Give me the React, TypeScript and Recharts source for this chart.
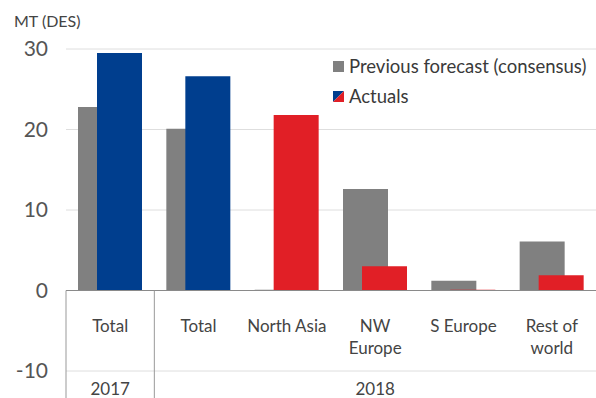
import React from "react";
import { BarChart, Bar, XAxis, YAxis, CartesianGrid, ReferenceLine, Cell } from "recharts";

const categories = ["Total", "Total", "North Asia", "NW\nEurope", "S Europe", "Rest of\nworld"];
const previousForecast = [22.8, 20.1, 0.1, 12.6, 1.2, 6.1];
const actuals = [29.5, 26.6, 21.8, 3.0, 0.1, 1.9];
const actualColors = ["#003e8e", "#003e8e", "#e11f26", "#e11f26", "#e11f26", "#e11f26"];
const yearGroups = [
  { year: "2017", first: 0, last: 0 },
  { year: "2018", first: 1, last: 5 },
];
const yTicks = [-10, 0, 10, 20, 30];
const legendItems = ["Previous forecast (consensus)", "Actuals"];

const W = 596;
const H = 398;
const MARGIN = { top: 49, right: 0, bottom: 0, left: 0 };
const Y_AXIS_W = 66;
const X_AXIS_H = 27;
const FONT = "Lato, 'Noto Sans', sans-serif";
const GRAY = "#808080";

const plotW = W - MARGIN.left - MARGIN.right - Y_AXIS_W;
const plotH = H - MARGIN.top - MARGIN.bottom - X_AXIS_H;
const band = plotW / categories.length;
const pxPerUnit = plotH / (yTicks[yTicks.length - 1] - yTicks[0]);
const zeroAboveBottom = (0 - yTicks[0]) * pxPerUnit;

const data = categories.map((name, i) => ({
  name,
  prev: previousForecast[i],
  actual: actuals[i],
}));

// category label + table lines + year row, all drawn from the tick position
function CategoryTick(props: any) {
  const { x, y, payload, index } = props;
  const lines = String(payload.value).split("\n");
  const group = yearGroups.find((g) => g.first === index);
  const top = y - zeroAboveBottom;
  return (
    <g>
      {lines.map((line, i) => (
        <text key={i} x={x} y={y - 39 + i * 22} textAnchor="middle" fill="#444" fontSize={17} fontFamily={FONT}>
          {line}
        </text>
      ))}
      {group && (
        <>
          <line x1={x - band / 2} x2={x - band / 2} y1={top} y2={H} stroke="#999" strokeWidth={1} />
          <text
            x={x + ((group.last - group.first) / 2) * band}
            y={y + 24}
            textAnchor="middle"
            fill="#444"
            fontSize={17}
            fontFamily={FONT}
          >
            {group.year}
          </text>
        </>
      )}
    </g>
  );
}

function LegendBox() {
  const row: React.CSSProperties = { display: "flex", alignItems: "center", height: 30 };
  return (
    <div
      style={{
        position: "absolute",
        left: 333,
        top: 51,
        fontFamily: FONT,
        fontSize: 18.5,
        color: "#3a3a3a",
        whiteSpace: "nowrap",
      }}
    >
      <div style={row}>
        <svg width={11} height={11} style={{ marginRight: 5 }}>
          <rect width={11} height={11} fill={GRAY} />
        </svg>
        {legendItems[0]}
      </div>
      <div style={row}>
        <svg width={11} height={11} style={{ marginRight: 5 }}>
          <polygon points="0,0 11,0 0,11" fill={actualColors[0]} />
          <polygon points="11,0 11,11 0,11" fill={actualColors[2]} />
        </svg>
        {legendItems[1]}
      </div>
    </div>
  );
}

export default function App() {
  return (
    <div style={{ position: "absolute", left: 0, top: 0, width: W, height: H, background: "#fff" }}>
      <div style={{ position: "absolute", left: 14, top: 11, fontFamily: FONT, fontSize: 16, color: "#444" }}>
        MT (DES)
      </div>
      <BarChart width={W} height={H} data={data} margin={MARGIN} barSize={45} barGap={-26}>
        <CartesianGrid vertical={false} stroke="#dedede" />
        <XAxis
          dataKey="name"
          height={X_AXIS_H}
          axisLine={false}
          tickLine={false}
          tickSize={0}
          tickMargin={0}
          interval={0}
          tick={<CategoryTick />}
        />
        <YAxis
          width={Y_AXIS_W}
          domain={[yTicks[0], yTicks[yTicks.length - 1]]}
          ticks={yTicks}
          axisLine={false}
          tickLine={false}
          tickMargin={12}
          tick={{ fill: "#555", fontSize: 21, fontFamily: FONT }}
        />
        <Bar dataKey="prev" name={legendItems[0]} fill={GRAY} isAnimationActive={false} />
        <Bar dataKey="actual" name={legendItems[1]} isAnimationActive={false}>
          {data.map((d, i) => (
            <Cell key={d.name + i} fill={actualColors[i]} />
          ))}
        </Bar>
        <ReferenceLine y={0} stroke="#8a8a8a" strokeWidth={1.2} />
      </BarChart>
      <LegendBox />
    </div>
  );
}
